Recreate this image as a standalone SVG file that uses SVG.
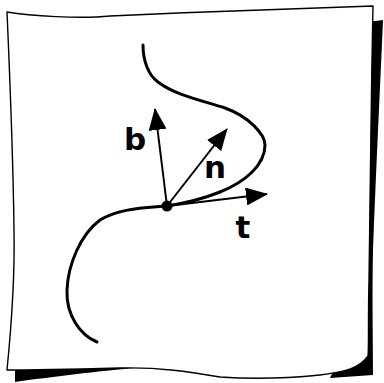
<svg xmlns="http://www.w3.org/2000/svg" width="384" height="383" viewBox="0 0 384 383">
<style>
.shadow{fill:#000;stroke:none}
.paper{fill:#fff;stroke:#000;stroke-width:1.4;stroke-linejoin:round}
.curve{fill:none;stroke:#000;stroke-width:3;stroke-linecap:round}
.vec{fill:none;stroke:#000;stroke-width:2;marker-end:url(#head)}
.lbl{font-family:"DejaVu Sans","Liberation Sans",sans-serif;font-weight:bold;font-size:31px;fill:#000;text-anchor:middle}
</style>
<defs>
<marker id="head" viewBox="0 0 22 18" refX="21" refY="9" markerWidth="22" markerHeight="18" markerUnits="userSpaceOnUse" orient="auto">
<path d="M0,0 L22,9 L0,18 Z" fill="#000"/>
</marker>
</defs>
<g id="paper">
<path class="shadow" d="M368,22 L383,20 C380,90 376,170 373,250 C372,300 373,340 373,375 L330,378 L368,300 Z"/>
<path class="shadow" d="M15,368 L15,382 C50,377 100,371 135,368 Z"/>
<path class="paper" d="M7,12 C30,16 80,19 110,16 C200,12 300,8 373,6 C371,100 370,200 369,280 C368,320 369,345 368,356 C360,368 345,372 320,375 C290,378 250,379 220,377 C190,372 160,367 120,368 C80,369 40,370 7,370 C11,330 15,280 14,230 C13,150 10,80 7,12 Z"/>
</g>
<g id="curve">
<path class="curve" d="M143,45 C143,60 148,75 158,82 C175,95 200,100 225,108 C250,117 265,135 265,145 C265,165 245,182 220,192 C200,200 180,204 167,206 C145,208 120,208 100,220 C80,235 68,265 67,290 C66,315 80,335 97,342"/>
</g>
<g id="connectors">
<path class="vec" d="M167,206 L155,109"/>
<path class="vec" d="M167,206 L227,129"/>
<path class="vec" d="M167,206 L267,194"/>
</g>
<g id="point">
<circle cx="167" cy="206" r="5.5" fill="#000"/>
</g>
<g id="label-b"><text class="lbl" x="135" y="150">b</text></g>
<g id="label-n"><text class="lbl" x="215" y="178">n</text></g>
<g id="label-t"><text class="lbl" x="243" y="238">t</text></g>
</svg>
